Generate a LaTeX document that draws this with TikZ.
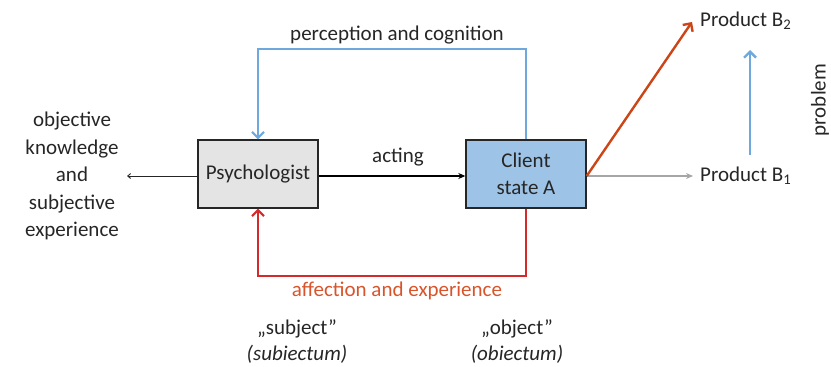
\documentclass[tikz,border=0pt]{standalone}
\usepackage{fontspec}
\setmainfont{Carlito}
\usetikzlibrary{arrows.meta}
\definecolor{txt}{HTML}{262626}
\definecolor{boxgray}{HTML}{E4E4E4}
\definecolor{boxblue}{HTML}{9DC3E6}
\definecolor{lineblue}{HTML}{6FA8DC}
\definecolor{linered}{HTML}{D42A2A}
\definecolor{textred}{HTML}{D9542B}
\definecolor{lineorange}{HTML}{CC4516}
\definecolor{linegray}{HTML}{A6A6A6}
\tikzset{
  lbl/.style={text=txt, font=\fontsize{21}{25}\selectfont, inner sep=0pt},
  agent/.style={draw=txt, line width=1.4pt, minimum width=120pt, minimum height=68pt,
    font=\fontsize{21}{27}\selectfont, text=txt, align=center, inner sep=0pt},
  tip/.style={-{Straight Barb[length=6pt,width=12pt]}},
  smalltip/.style={-{Straight Barb[length=3pt,width=5pt]}},
}
\begin{document}
\begin{tikzpicture}[x=1pt,y=-1pt]
\useasboundingbox (0,0) rectangle (831,367);
% boxes
\node[agent, fill=boxgray] (psy) at (258,174) {Psychologist};
\node[agent, fill=boxblue] (cli) at (526,174) {Client\\state A};
% labels
\node[lbl, align=center, font=\fontsize{21}{27.5}\selectfont] (know) at (72,176)
  {objective\\knowledge\\and\\subjective\\experience};
\node[lbl, anchor=west] (pb1) at (700,176) {Product B\textsubscript{1}};
\node[lbl, anchor=west] (pb2) at (700,21) {Product B\textsubscript{2}};
\node[lbl, rotate=90] (prob) at (820,100) {problem};
\node[lbl] (act) at (398,157) {acting};
\node[lbl] (perc) at (397,35) {perception and cognition};
\node[lbl, text=textred] (aff) at (397,291) {affection and experience};
\node[lbl] (subj) at (297,329) {„subject”};
\node[lbl] (subjl) at (297,354) {\itshape (subiectum)};
\node[lbl] (obj) at (517,329) {„object”};
\node[lbl] (objl) at (517,354) {\itshape (obiectum)};
% connectors
\coordinate (kend) at (127,176);
\coordinate (b1end) at (693,176);
\coordinate (b2end) at (692,22);
\coordinate (pstart) at (750,155);
\coordinate (pend) at (750,50);
\draw[txt, line width=0.9pt, smalltip] (psy.west |- kend) -- (kend);
\draw[black, line width=2.2pt, -{Stealth[length=7pt,width=6pt]}] (psy.east |- kend) -- (cli.west |- kend);
\draw[lineblue, line width=2pt, tip] (cli.north) -- ++(0,-90) -| (psy.north);
\draw[linered, line width=2pt, tip] (cli.south) -- ++(0,67) -| (psy.south);
\draw[linegray, line width=2.4pt, -{Stealth[length=7pt,width=6pt]}] (cli.east |- b1end) -- (b1end);
\draw[lineorange, line width=2.4pt, tip] ([yshift=-2pt]cli.east) -- (b2end);
\draw[lineblue, line width=2.4pt, tip] (pstart) -- (pend);
\end{tikzpicture}
\end{document}
